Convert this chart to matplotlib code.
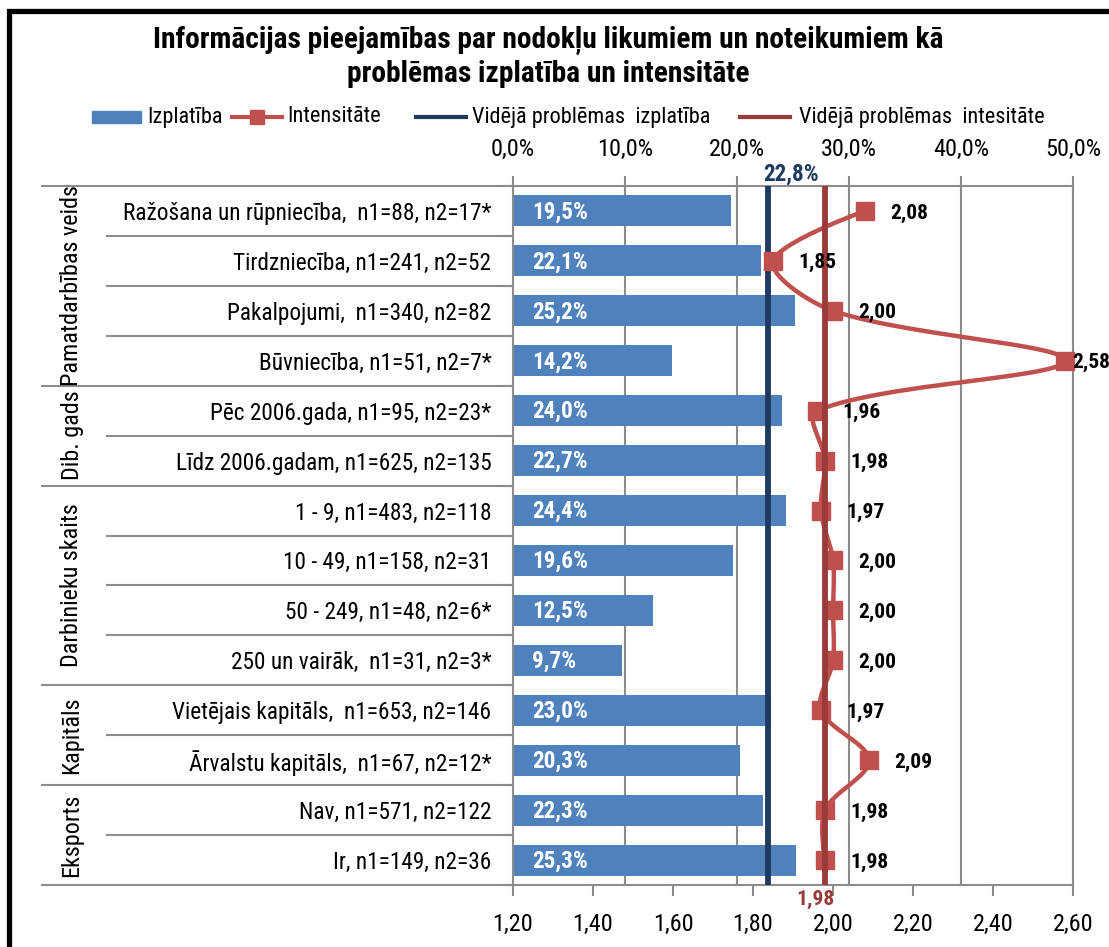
import numpy as np
import matplotlib
matplotlib.use("Agg")
import matplotlib.pyplot as plt
from matplotlib import font_manager
from matplotlib.patches import Rectangle
from matplotlib.lines import Line2D
from matplotlib.transforms import blended_transform_factory

# data
categories = [
    "Ražošana un rūpniecība,  n1=88, n2=17*",
    "Tirdzniecība, n1=241, n2=52",
    "Pakalpojumi,  n1=340, n2=82",
    "Būvniecība, n1=51, n2=7*",
    "Pēc 2006.gada, n1=95, n2=23*",
    "Līdz 2006.gadam, n1=625, n2=135",
    "1 - 9, n1=483, n2=118",
    "10 - 49, n1=158, n2=31",
    "50 - 249, n1=48, n2=6*",
    "250 un vairāk,  n1=31, n2=3*",
    "Vietējais kapitāls,  n1=653, n2=146",
    "Ārvalstu kapitāls,  n1=67, n2=12*",
    "Nav, n1=571, n2=122",
    "Ir, n1=149, n2=36",
]
izplatiba = [19.5, 22.1, 25.2, 14.2, 24.0, 22.7, 24.4, 19.6, 12.5, 9.7, 23.0, 20.3, 22.3, 25.3]
intensitate = [2.08, 1.85, 2.00, 2.58, 1.96, 1.98, 1.97, 2.00, 2.00, 2.00, 1.97, 2.09, 1.98, 1.98]
groups = ["Pamatdarbības veids", "Dib. gads", "Darbinieku skaits", "Kapitāls", "Eksports"]
group_sizes = [4, 2, 4, 2, 2]
avg_izplatiba = 22.8
avg_intensitate = 1.98
pct_ticks = [0, 10, 20, 30, 40, 50]
int_ticks = [1.2, 1.4, 1.6, 1.8, 2.0, 2.2, 2.4, 2.6]
legend_labels = ["Izplatība", "Intensitāte", "Vidējā problēmas  izplatība", "Vidējā problēmas  intesitāte"]

title = ("Informācijas pieejamības par nodokļu likumiem un noteikumiem kā\n"
         "problēmas izplatība un intensitāte")

BAR = "#4F81BD"
RED = "#C0504D"
NAVY = "#1F3A60"
DARKRED = "#9B3B39"
GRID = "#8C8C8C"

# try to find a narrow font (chart was made with Arial Narrow)
fl = font_manager.fontManager.ttflist
names = {f.name for f in fl}
FONT, STRETCH = "Liberation Sans", "normal"
for n in ["Liberation Sans Narrow", "Arial Narrow", "Roboto Condensed", "Open Sans Condensed",
          "Noto Sans Condensed", "DejaVu Sans Condensed"]:
    if n in names:
        FONT = n
        break
else:
    for n in ["Noto Sans", "Roboto", "Open Sans", "DejaVu Sans"]:
        if any(f.name == n and "condensed" in str(f.stretch) for f in fl):
            FONT, STRETCH = n, "condensed"
            break
plt.rcParams["font.family"] = [FONT, "DejaVu Sans"]
plt.rcParams["font.stretch"] = STRETCH


def comma(v, fmt):
    return format(v, fmt).replace(".", ",")


W, H = 1109, 947
fig = plt.figure(figsize=(W / 100, H / 100), dpi=100)
renderer = fig.canvas.get_renderer()


def fit(s, px, weight="normal"):
    # font size that makes text s about px pixels wide
    t = fig.text(0, 0, s, fontsize=20, fontweight=weight)
    w = t.get_window_extent(renderer).width
    t.remove()
    return 20 * px / w


def fx(px):
    return px / W


def fy(py):
    return 1 - py / H


CAT_FS = fit(categories[0], 367)
GROUP_FS = fit(groups[0], 200)
TITLE_FS = fit(title.split("\n")[0], 791, "bold")
LEG_FS = fit(legend_labels[3], 245)
TICK_FS = fit("10,0%", 56)
BARLAB_FS = fit("19,5%", 56, "bold")
INTLAB_FS = fit("2,08", 38, "bold")

ax = fig.add_axes([fx(513), fy(885), (1073 - 513) / W, (885 - 186) / H])
rows = np.arange(len(categories))

ax.barh(rows, izplatiba, height=0.62, color=BAR, zorder=2)
ax.set_xlim(0, 50)
ax.set_ylim(len(categories) - 0.5, -0.5)
ax.set_axisbelow(True)
ax.grid(axis="x", color=GRID, lw=1.5)
ax.set_yticks(rows, categories)
ax.tick_params(axis="y", length=0, labelsize=CAT_FS, pad=15.5)
ax.set_yticks(np.arange(len(categories) + 1) - 0.5, minor=True)
ax.tick_params(axis="y", which="minor", length=8, color=GRID, width=1.5)
for s in ax.spines.values():
    s.set_color(GRID)
    s.set_linewidth(1.5)

for i, v in enumerate(izplatiba):
    ax.annotate(comma(v, ".1f") + "%", (0, i), xytext=(19, -1), textcoords="offset pixels",
                color="white", fontweight="bold", fontsize=BARLAB_FS, va="center", ha="left", zorder=4)

ax.axvline(avg_izplatiba, color=NAVY, lw=4.2, zorder=3)
ax.annotate(comma(avg_izplatiba, ".1f") + "%", (avg_izplatiba, -0.5), xytext=(23, 12),
            textcoords="offset pixels", color=NAVY, fontweight="bold", fontsize=BARLAB_FS,
            ha="center", va="center", annotation_clip=False)

# intensity on the bottom axis
ax2 = ax.twiny()
ax2.set_xlim(1.2, 2.6)
ax2.xaxis.tick_bottom()
ax2.set_xticks(int_ticks, [comma(v, ".2f") for v in int_ticks])
ax2.tick_params(axis="x", length=8, color=GRID, width=1.5, labelsize=TICK_FS, pad=12)
for s in ax2.spines.values():
    s.set_visible(False)

# twiny resets the primary axis to the bottom, so put it back on top
ax.xaxis.tick_top()
ax.set_xticks(pct_ticks, [comma(v, ".1f") + "%" for v in pct_ticks])
ax.tick_params(axis="x", length=7, color=GRID, width=1.5, labelsize=TICK_FS, pad=11)

# smoothed line, control points built in pixel space like excel does
P = ax2.transData.transform(np.column_stack([intensitate, rows]))
pts = [P[0]]
tt = np.linspace(0, 1, 30)[1:, None]
for k in range(len(P) - 1):
    p0 = P[k - 1] if k > 0 else P[k]
    p1, p2 = P[k], P[k + 1]
    p3 = P[k + 2] if k + 2 < len(P) else P[k + 1]
    d01 = np.hypot(*(p1 - p0))
    d12 = np.hypot(*(p2 - p1))
    d23 = np.hypot(*(p3 - p2))
    c1 = p1 + (p2 - p0) / 3 * d12 / (d01 + d12) if d01 > 0 else p1
    c2 = p2 - (p3 - p1) / 3 * d12 / (d12 + d23) if d23 > 0 else p2
    pts.extend((1 - tt) ** 3 * p1 + 3 * (1 - tt) ** 2 * tt * c1 + 3 * (1 - tt) * tt ** 2 * c2 + tt ** 3 * p2)
curve = ax2.transData.inverted().transform(np.array(pts))
ax2.plot(curve[:, 0], curve[:, 1], color=RED, lw=3.2, zorder=5, solid_capstyle="round", clip_on=False)
ax2.plot(intensitate, rows, ls="none", marker="s", ms=13, color=RED, zorder=6, clip_on=False)

ax2.axvline(avg_intensitate, color=DARKRED, lw=4.2, zorder=7)
ax2.annotate(comma(avg_intensitate, ".2f"), (avg_intensitate, len(categories) - 0.5), xytext=(-10, -14),
             textcoords="offset pixels", color=DARKRED, fontweight="bold", fontsize=INTLAB_FS,
             ha="center", va="center", annotation_clip=False)

for i, v in enumerate(intensitate):
    xpix = ax2.transData.transform((v, i))[0]
    off = min(25, 1072 - xpix)
    ax2.annotate(comma(v, ".2f"), (v, i), xytext=(off, -2), textcoords="offset pixels",
                 fontweight="bold", fontsize=INTLAB_FS, va="center", ha="left", zorder=8,
                 annotation_clip=False)

# left side group labels and separators
tr = blended_transform_factory(fig.transFigure, ax.transData)
bounds = np.cumsum([0] + group_sizes)
for b in range(len(categories) + 1):
    x0 = 42 if b in bounds else 107
    ax.plot([fx(x0), fx(513)], [b - 0.5, b - 0.5], transform=tr, color=GRID, lw=1.5, clip_on=False)
for g, name in enumerate(groups):
    yc = (bounds[g] + bounds[g + 1] - 1) / 2
    ax.text(fx(72), yc, name, transform=tr, rotation=90, fontsize=GROUP_FS,
            ha="center", va="center", clip_on=False)

# title and legend
fig.text(fx(548), fy(57), title, ha="center", va="center", fontsize=TITLE_FS, fontweight="bold",
         linespacing=1.2)
ly = fy(117)
fig.add_artist(Rectangle((fx(92), fy(123)), fx(49), 12 / H, color=BAR, transform=fig.transFigure))
fig.text(fx(147), ly, legend_labels[0], fontsize=LEG_FS, va="center")
fig.add_artist(Line2D([fx(232), fx(282)], [ly, ly], color=RED, lw=3, transform=fig.transFigure))
fig.add_artist(Line2D([fx(257)], [ly], color=RED, marker="s", ms=10.5, transform=fig.transFigure))
fig.text(fx(287), ly, legend_labels[1], fontsize=LEG_FS, va="center")
fig.add_artist(Line2D([fx(416), fx(466)], [ly, ly], color=NAVY, lw=3, transform=fig.transFigure))
fig.text(fx(472), ly, legend_labels[2], fontsize=LEG_FS, va="center")
fig.add_artist(Line2D([fx(740), fx(790)], [ly, ly], color=DARKRED, lw=3, transform=fig.transFigure))
fig.text(fx(799), ly, legend_labels[3], fontsize=LEG_FS, va="center")

# outer frame (only top/left visible in the crop)
fig.add_artist(Rectangle((fx(9), -0.2), 2, fy(11) + 0.2, fill=False, ec="black", lw=3.8,
                         transform=fig.transFigure))

fig.savefig("out.png", dpi=100)
